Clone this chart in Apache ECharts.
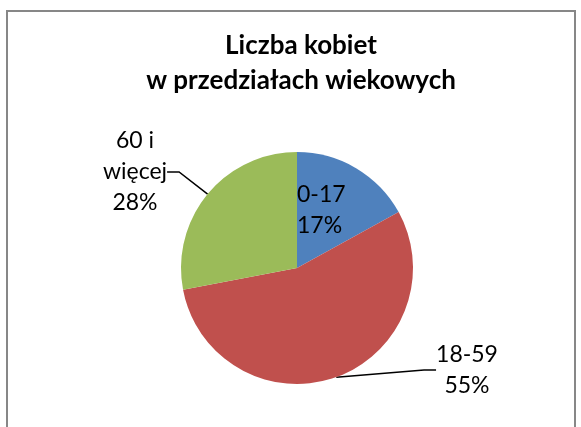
<!DOCTYPE html>
<html>
<head>
<meta charset="utf-8">
<script src="https://cdn.jsdelivr.net/npm/echarts@6/dist/echarts.min.js"></script>
<style>
  html, body { margin: 0; padding: 0; background: #fff; }
  #chart { position: absolute; left: 0; top: 0; width: 581px; height: 427px; }
  #frame { position: absolute; left: 6px; top: 10px; width: 566px; height: 440px; border: 2px solid #878787; pointer-events: none; }
</style>
</head>
<body>
<div id="chart"></div>
<div id="frame"></div>
<script>
// dane
const categories = ['0-17', '18-59', '60 i\nwięcej']
const values = [17, 55, 28]
const colors = ['#4F81BD', '#C0504D', '#9BBB59']

// gdzie stoją etykiety (Excel je przesunął ręcznie)
const labelPos = [
  { x: 297, y: 210, align: 'left' },
  { x: 467, y: 370, align: 'center' },
  { x: 135, y: 172, align: 'center' }
]

const chart = echarts.init(document.getElementById('chart'))
const font = 'Lato, "Noto Sans", sans-serif'

const option = {
  animation: false,
  title: {
    text: 'Liczba kobiet\nw przedziałach wiekowych',
    left: 301,
    top: 28,
    padding: 0,
    textAlign: 'center',
    textStyle: {
      fontFamily: font,
      fontWeight: 'bold',
      fontSize: 26,
      lineHeight: 35,
      color: '#000'
    }
  },
  series: [
    {
      type: 'pie',
      center: [297, 268],
      radius: 116,
      startAngle: 90,
      clockwise: true,
      avoidLabelOverlap: false,
      data: categories.map((name, i) => ({
        name,
        value: values[i],
        itemStyle: { color: colors[i] },
        labelLine: { show: i !== 0 }
      })),
      label: {
        formatter: '{b}\n{d}%',
        fontFamily: font,
        fontSize: 23,
        lineHeight: 31,
        color: '#000'
      },
      labelLine: {
        show: true,
        length: 10,
        length2: 12,
        lineStyle: { color: '#000', width: 1.5 }
      },
      labelLayout: (params) => {
        const p = labelPos[params.dataIndex]
        return { x: p.x, y: p.y, align: p.align, verticalAlign: 'middle' }
      }
    }
  ]
}

chart.setOption(option)
window.addEventListener('resize', () => chart.resize())
</script>
</body>
</html>
